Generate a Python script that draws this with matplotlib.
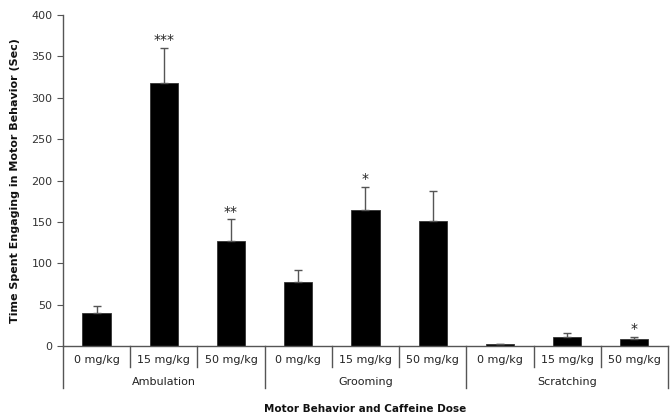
import matplotlib
matplotlib.use('Agg')
import matplotlib.pyplot as plt
import numpy as np

doses = ['0 mg/kg', '15 mg/kg', '50 mg/kg'] * 3
behaviors = ['Ambulation', 'Grooming', 'Scratching']
means = [40, 318, 127, 78, 165, 151, 2, 11, 8]
errs = [8, 42, 26, 14, 27, 36, 1, 5, 3]
stars = ['', '***', '**', '', '*', '', '', '', '*']

gray = '#555555'
fig = plt.figure(figsize=(6.7, 4.17), dpi=100)
ax = fig.add_axes([0.094, 0.170, 0.903, 0.794])

x = np.arange(len(means))
ax.bar(x, means, width=0.42, color='black', edgecolor='#333333', linewidth=0.6)
ax.errorbar(x, means, yerr=[np.zeros(len(errs)), errs], fmt='none',
            ecolor=gray, elinewidth=1, capsize=3, capthick=1)
for xi, m, e, s in zip(x, means, errs, stars):
    if s:
        ax.text(xi, m + e + 1, s, ha='center', va='bottom', fontsize=10,
                color='#222222')

ax.set_xlim(-0.5, 8.5)
ax.set_ylim(0, 400)
ax.set_yticks(range(0, 401, 50))
ax.tick_params(axis='y', labelsize=8, colors='#333333', length=4, color=gray)
ax.set_xticks([])
for side in ['top', 'right']:
    ax.spines[side].set_visible(False)
for side in ['left', 'bottom']:
    ax.spines[side].set_color(gray)
    ax.spines[side].set_linewidth(1)

# grouped category axis
h = 331.0
trans = ax.get_xaxis_transform()
for xi, d in zip(x, doses):
    ax.text(xi, -14 / h, d, transform=trans, ha='center', va='center',
            fontsize=8, color='#222222')
for i in range(1, 9):
    if i % 3 != 0:
        ax.plot([i - 0.5, i - 0.5], [0, -21 / h], transform=trans,
                color=gray, lw=1, clip_on=False)
for i in range(0, 10, 3):
    ax.plot([i - 0.5, i - 0.5], [0, -42 / h], transform=trans,
            color=gray, lw=1, clip_on=False)
for g, b in enumerate(behaviors):
    ax.text(g * 3 + 1, -36 / h, b, transform=trans, ha='center', va='center',
            fontsize=8, color='#222222')

ax.text(4, -63 / h, 'Motor Behavior and Caffeine Dose', transform=trans,
        ha='center', va='center', fontsize=7.5, fontweight='bold', color='#111111')
ax.set_ylabel('Time Spent Engaging in Motor Behavior (Sec)', fontsize=8,
              fontweight='bold', color='#111111', labelpad=8)

fig.savefig('out.png', dpi=100)
